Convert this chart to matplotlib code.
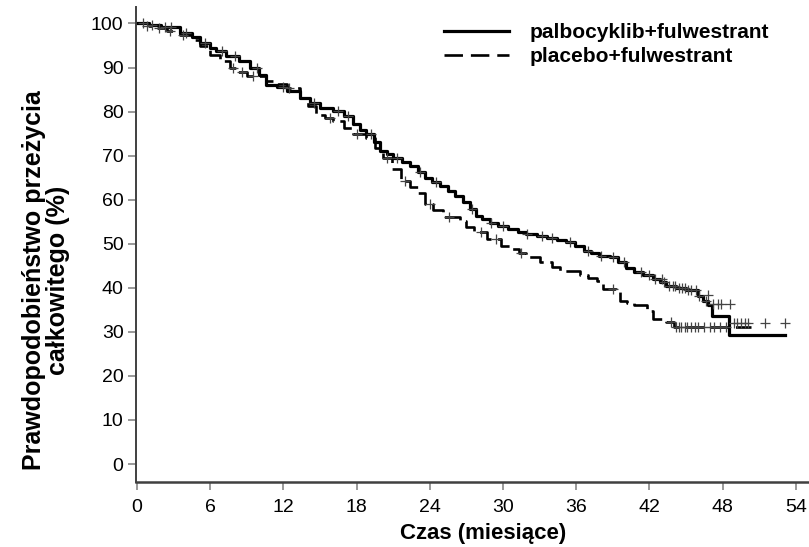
import matplotlib.pyplot as plt
from matplotlib.lines import Line2D

# Kaplan-Meier steps (months, % survival)
pal_time = [0, 1.0, 2.0, 3.5, 4.5, 5.2, 6.0, 6.5, 7.3, 8.4,
            9.3, 10.0, 10.6, 11.5, 12.3, 13.4, 14.2, 15.0, 16.1, 17.0,
            17.7, 18.3, 18.8, 19.4, 19.9, 20.5, 21.0, 21.7, 22.4, 23.0,
            23.6, 24.2, 24.8, 25.5, 26.1, 26.7, 27.3, 27.8, 28.3, 28.9,
            29.6, 30.4, 31.2, 31.9, 32.8, 33.6, 34.4, 35.2, 35.9, 36.6,
            37.2, 37.9, 38.8, 39.4, 40.1, 40.7, 41.5, 42.3, 42.9, 43.4,
            44.2, 45.0, 45.6, 46.0, 46.4, 46.8, 47.1, 48.5]
pal_surv = [100, 99.7, 99.3, 97.8, 96.9, 95.5, 94.4, 93.7, 92.5, 91.4,
            89.9, 88.2, 86.1, 85.5, 84.6, 83.1, 82.0, 80.8, 80.1, 79.0,
            77.1, 75.9, 74.8, 73.0, 71.0, 70.3, 69.5, 68.6, 67.6, 66.3,
            64.9, 64.0, 63.1, 62.0, 60.9, 59.5, 57.9, 56.3, 55.6, 54.8,
            54.0, 53.4, 52.7, 52.2, 51.8, 51.3, 50.8, 50.3, 49.4, 48.4,
            47.8, 47.3, 47.1, 45.9, 44.6, 43.5, 42.8, 42.1, 41.3, 40.5,
            40.0, 39.6, 39.4, 38.2, 37.1, 36.0, 33.7, 29.2]
pal_end = 53.1

plc_time = [0, 1.0, 1.6, 2.5, 3.5, 4.5, 5.2, 6.0, 6.8, 7.6,
            8.3, 9.0, 10.6, 11.5, 12.3, 13.4, 14.0, 14.7, 15.4, 16.1,
            17.0, 17.7, 18.8, 19.5, 20.2, 20.9, 21.6, 22.4, 23.0, 23.6,
            24.3, 25.1, 26.5, 27.0, 27.6, 28.7, 29.8, 30.6, 31.3, 31.9,
            33.0, 34.0, 34.7, 36.3, 37.0, 37.7, 38.2, 39.3, 39.6, 40.2,
            40.7, 41.8, 42.3, 43.4, 44.0]
plc_surv = [100, 99.5, 98.9, 98.2, 97.4, 96.2, 94.8, 92.9, 91.5, 89.9,
            89.0, 88.0, 86.9, 86.2, 85.4, 83.1, 81.2, 79.3, 78.5, 77.8,
            76.3, 74.8, 74.0, 71.8, 69.5, 66.9, 64.3, 62.8, 61.5, 59.0,
            57.6, 56.0, 55.2, 53.8, 52.6, 51.1, 49.5, 48.8, 47.8, 46.9,
            45.8, 44.8, 43.9, 42.8, 42.2, 41.6, 39.8, 39.4, 37.1, 36.5,
            36.0, 34.8, 33.0, 32.2, 31.2]
plc_end = 50.3

# censored patients (time, level)
pal_cens_t = [0.5, 1.2, 2.3, 2.8, 4.0, 5.6, 7.0, 8.0, 9.8, 12.0,
              14.5, 16.5, 17.3, 19.2, 21.3, 23.2, 24.5, 27.5, 29.0, 30.0,
              32.0, 33.2, 34.0, 35.5, 37.0, 38.0, 39.0, 39.9, 41.3, 42.0,
              42.5, 43.0, 43.2, 43.6, 43.9, 44.1, 44.4, 44.7, 44.9, 45.2,
              45.4, 45.8, 46.1, 46.6, 46.8, 47.2, 47.6, 47.9, 48.6]
pal_cens_s = [100, 99.7, 99.3, 99.3, 97.8, 95.5, 93.7, 92.5, 89.9, 85.5,
              82.0, 80.1, 79.0, 74.8, 69.5, 66.3, 64.0, 57.9, 54.8, 54.0,
              52.2, 51.8, 51.3, 50.3, 48.4, 47.3, 47.1, 45.9, 43.5, 42.8,
              42.1, 42.1, 41.3, 40.5, 40.5, 40.5, 40.0, 40.0, 40.0, 39.6,
              39.6, 39.4, 38.2, 37.1, 38.3, 36.4, 36.4, 36.4, 36.4]

plc_cens_t = [0.8, 1.8, 2.7, 3.8, 7.9, 8.6, 9.5, 12.5, 15.8, 18.0,
              20.5, 22.0, 24.0, 25.6, 28.2, 29.4, 31.5, 39.0, 43.8, 44.2,
              44.4, 44.6, 44.9, 45.1, 45.4, 45.7, 46.0, 46.5, 47.0, 47.3,
              47.8, 48.3, 48.9, 49.2, 49.5, 49.8, 50.1, 51.5, 53.1]
plc_cens_s = [99.5, 98.9, 98.2, 97.4, 89.9, 89.0, 88.0, 85.4, 78.5, 74.8,
              69.5, 64.3, 59.0, 56.0, 52.6, 51.1, 47.8, 39.8, 32.2, 31.2,
              31.2, 31.2, 31.2, 31.2, 31.2, 31.2, 31.2, 31.2, 31.2, 31.2,
              31.2, 31.2, 31.9, 31.9, 31.9, 31.9, 31.9, 31.9, 31.9]

x_ticks = [0, 6, 12, 18, 24, 30, 36, 42, 48, 54]
y_ticks = [0, 10, 20, 30, 40, 50, 60, 70, 80, 90, 100]

plt.rcParams['font.family'] = ['Liberation Sans', 'DejaVu Sans']

fig = plt.figure(figsize=(8.09, 5.47), dpi=100)
ax = fig.add_axes([136 / 809, 1 - 482 / 547, 672 / 809, (482 - 6.7) / 547])

ax.step(pal_time + [pal_end], pal_surv + [pal_surv[-1]], where='post',
        color='black', lw=2.3)
ax.step(plc_time + [plc_end], plc_surv + [plc_surv[-1]], where='post',
        color='black', lw=1.9, dashes=(7, 2.5))
ax.plot(pal_cens_t, pal_cens_s, ls='none', marker='+', ms=7, mew=0.9, color='#444444')
ax.plot(plc_cens_t, plc_cens_s, ls='none', marker='+', ms=7, mew=0.9, color='#444444')

ax.set_xlim(-0.08, 55.0)
ax.set_ylim(-4.08, 103.8)
ax.set_xticks(x_ticks)
ax.set_yticks(y_ticks)
ax.tick_params(labelsize=14, color='#888888', width=1.2, length=6)
ax.tick_params(axis='x', pad=6)
ax.tick_params(axis='y', pad=3)

for side in ['top', 'right']:
    ax.spines[side].set_visible(False)
ax.spines['left'].set_color('#404040')
ax.spines['left'].set_linewidth(1.4)
ax.spines['bottom'].set_color('#404040')
ax.spines['bottom'].set_linewidth(1.8)

handles = [Line2D([], [], color='black', lw=2.3),
           Line2D([], [], color='black', lw=1.9, dashes=(7, 3))]
fig.legend(handles, ['palbocyklib+fulwestrant', 'placebo+fulwestrant'],
           loc='upper left', bbox_to_anchor=(444 / 809, 1 - 23 / 547),
           frameon=False, borderpad=0, borderaxespad=0, handlelength=3.1,
           handletextpad=1.0, labelspacing=0.25,
           prop={'weight': 'bold', 'size': 15})

fig.text(46 / 809, 1 - 280 / 547, 'Prawdopodobieństwo przeżycia\ncałkowitego (%)',
         rotation=90, ha='center', va='center', ma='center', fontsize=18,
         fontweight='bold', linespacing=0.95)
fig.text(483 / 809, 1 - 533 / 547, 'Czas (miesiące)', ha='center', va='center',
         fontsize=16, fontweight='bold')

fig.savefig('out.png', dpi=100)
